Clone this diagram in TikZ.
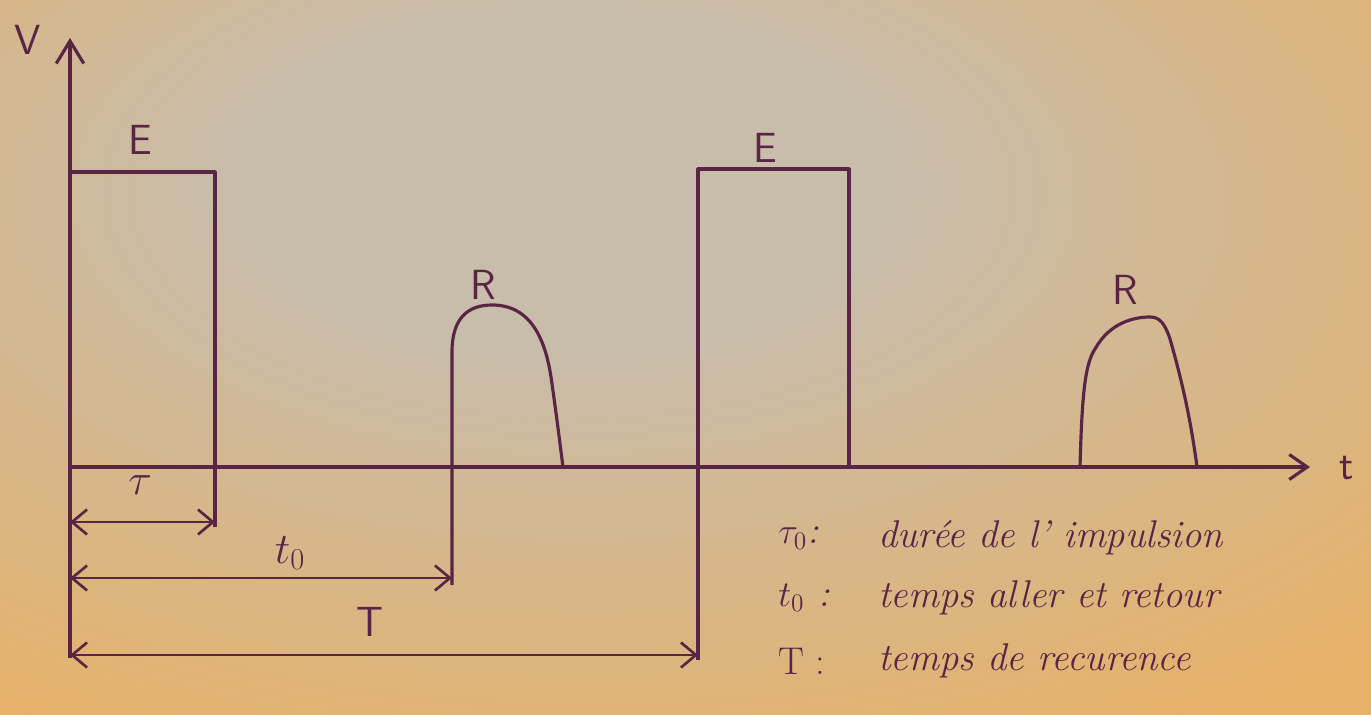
\documentclass[tikz,border=0pt]{standalone}
\usepackage{amsmath,amssymb}
\usepackage{xcolor}
\usepackage{tikz}
\usetikzlibrary{arrows.meta}
\definecolor{ink}{HTML}{5A2445}
\definecolor{paperc}{HTML}{C8BCAA}
\definecolor{papere}{HTML}{E6B169}
\pgfdeclareradialshading{paper}{\pgfpoint{-5bp}{14bp}}{color(0bp)=(paperc);
  color(12bp)=(paperc); color(40bp)=(papere); color(100bp)=(papere)}
\tikzset{
  sig/.style={ink, line width=1.8pt, line join=round},
  dim/.style={ink, line width=1.5pt,
    {Straight Barb[length=3mm,width=5mm]}-{Straight Barb[length=3mm,width=5mm]}},
  lab/.style={ink, font=\sffamily\fontsize{24}{28}\selectfont, inner sep=1pt},
  legend/.style={ink, font=\itshape\fontsize{22}{26}\selectfont, anchor=west, inner sep=0pt}
}
\begin{document}
\begin{tikzpicture}[x=0.02cm,y=0.02cm]
 \shade[shading=paper] (0,0) rectangle (1371,714);
 \useasboundingbox (0,0) rectangle (1371,714);
 % axes
 \coordinate (O) at (70,247);
 \coordinate (Vtip) at (70,676);
 \coordinate (Vbot) at (70,56);
 \coordinate (Ttip) at (1310,247);
 \draw[sig, -{Straight Barb[length=4.5mm,width=5.5mm]}] (Vbot)--(Vtip);
 \draw[sig, -{Straight Barb[length=3.6mm,width=5mm]}] (O)--(Ttip);
 % emitted pulses
 \coordinate (E1a) at (70,542);
 \coordinate (E1b) at (215,542);
 \coordinate (E1c) at (215,187);
 \coordinate (E2a) at (698,54);
 \coordinate (E2b) at (698,545);
 \coordinate (E2c) at (849,545);
 \coordinate (E2d) at (849,247);
 \draw[sig] (E1a)--(E1b)--(E1c);
 \draw[sig] (E2a)--(E2b)--(E2c)--(E2d);
 % echoes
 \coordinate (R1a) at (452,129);
 \draw[sig] (R1a)--(452,362)
   .. controls (452,396) and (468,409) .. (492,409)
   .. controls (525,409) and (545,385) .. (552,330)
   .. controls (557,295) and (560,270) .. (563,247);
 \draw[sig] (1080,247)
   .. controls (1082,320) and (1085,350) .. (1095,365)
   .. controls (1110,392) and (1135,397) .. (1150,397)
   .. controls (1160,397) and (1165,390) .. (1170,375)
   .. controls (1180,340) and (1190,300) .. (1197,247);
 % durations
 \coordinate (tauL) at (70,192);
 \coordinate (tauR) at (215,192);
 \coordinate (toL) at (70,136);
 \coordinate (toR) at (452,136);
 \coordinate (TL) at (70,59);
 \coordinate (TR) at (698,59);
 \draw[dim] (tauL)--(tauR);
 \draw[dim] (toL)--(toR);
 \draw[dim] (TL)--(TR);
 % labels
 \node[lab] (lV) at (28,674) {V};
 \node[lab] (lt) at (1347,246) {t};
 \node[lab] (lE1) at (140,574) {E};
 \node[lab] (lE2) at (765,566) {E};
 \node[lab] (lR1) at (483,429) {R};
 \node[lab] (lR2) at (1125,424) {R};
 \node[lab] (ltau) at (140,229) {$\tau$};
 \node[lab] (lto) at (290,161) {$t_0$};
 \node[lab] (lT) at (370,92) {T};
 % legend
 \node[legend] (k1) at (778,176) {$\tau_0$:};
 \node[legend] (d1) at (878,176) {durée de l' impulsion};
 \node[legend] (k2) at (778,116) {$t_0$ :};
 \node[legend] (d2) at (878,116) {temps aller et retour};
 \node[legend] (k3) at (778,53) {\upshape T :};
 \node[legend] (d3) at (878,53) {temps de recurence};
\end{tikzpicture}
\end{document}
